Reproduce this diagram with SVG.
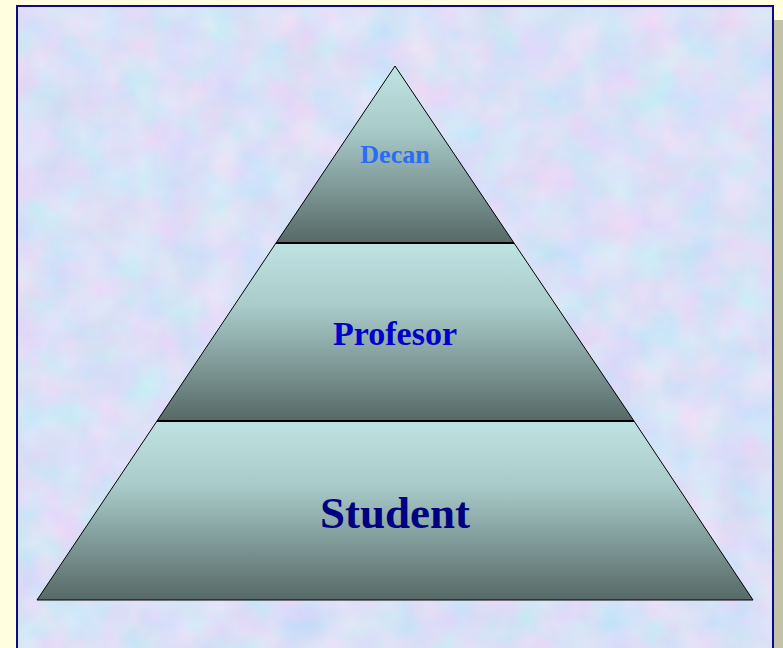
<svg xmlns="http://www.w3.org/2000/svg" width="783" height="648" viewBox="0 0 783 648">
<defs>
<linearGradient id="band" x1="0" y1="0" x2="0" y2="1">
<stop offset="0" stop-color="#BFE3E2"/>
<stop offset="0.35" stop-color="#A9CCCB"/>
<stop offset="1" stop-color="#566966"/>
</linearGradient>
<filter id="tex" x="0" y="0" width="100%" height="100%">
<feTurbulence type="fractalNoise" baseFrequency="0.025" numOctaves="3" seed="7" result="n"/>
<feColorMatrix in="n" type="matrix" values="0.4 0 0 0 0.5  -0.1 0.2 0 0 0.7  0 0 0.1 0 0.88  0 0 0 0 1"/>
</filter>
<style>
.band{fill:url(#band);stroke:#000;stroke-width:1}
.div{stroke:#000;stroke-width:2}
.t{font-family:"Liberation Serif","Times New Roman",serif;font-weight:bold;text-anchor:middle}
</style>
</defs>
<rect x="0" y="0" width="783" height="648" fill="#FFFFE0"/>
<rect x="774" y="20" width="9" height="628" fill="#C2C2A8"/>
<rect x="17" y="6" width="757" height="650" fill="#C8D8F4"/>
<rect x="17" y="6" width="757" height="650" filter="url(#tex)"/>
<rect x="17" y="6" width="756" height="650" fill="none" stroke="#0B0B8A" stroke-width="2"/>
<g id="student">
<polygon class="band" points="157,421 634,421 753,600 37,600"/>
<text class="t" x="395" y="528" font-size="45" fill="#000080">Student</text>
</g>
<g id="profesor">
<polygon class="band" points="276,243 514,243 634,421 157,421"/>
<text class="t" x="395" y="345" font-size="34" fill="#0000CC">Profesor</text>
</g>
<g id="decan">
<polygon class="band" points="395,66 514,243 276,243"/>
<text class="t" x="395" y="163" font-size="26" fill="#2A6CF5">Decan</text>
</g>
<g id="connectors">
<line class="div" x1="276" y1="243" x2="514" y2="243"/>
<line class="div" x1="157" y1="421" x2="634" y2="421"/>
</g>
</svg>
